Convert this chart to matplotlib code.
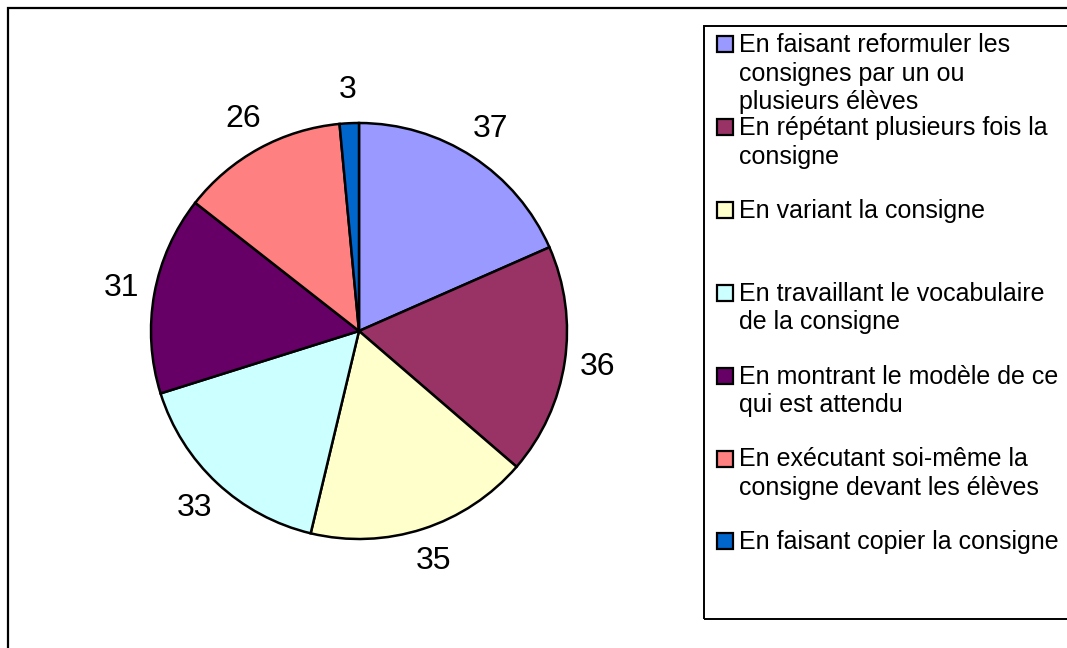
import matplotlib
matplotlib.use("Agg")
import matplotlib.pyplot as plt
from matplotlib.patches import Rectangle

plt.rcParams['font.family'] = ['Liberation Sans', 'DejaVu Sans']

labels = [
    "En faisant reformuler les\nconsignes par un ou\nplusieurs élèves",
    "En répétant plusieurs fois la\nconsigne",
    "En variant la consigne",
    "En travaillant le vocabulaire\nde la consigne",
    "En montrant le modèle de ce\nqui est attendu",
    "En exécutant soi-même la\nconsigne devant les élèves",
    "En faisant copier la consigne",
]
values = [37, 36, 35, 33, 31, 26, 3]
colors = ["#9999FF", "#993366", "#FFFFCC", "#CCFFFF", "#660066", "#FF8080", "#0066CC"]

W, H = 1067, 648
fig = plt.figure(figsize=(W / 100, H / 100), dpi=100)

# outer chart border (runs off the right and bottom edges)
fig.patches.append(Rectangle((8 / W, -0.05), 1.1, 1 - 8 / H + 0.05,
                             transform=fig.transFigure, fill=False,
                             edgecolor="black", linewidth=1.6))

# pie
cx, cy, r = 359, 331, 208
ax = fig.add_axes([(cx - r) / W, (H - cy - r) / H, 2 * r / W, 2 * r / H])
total = sum(values)
wedges, texts, autotexts = ax.pie(
    values, colors=colors, startangle=90, counterclock=False,
    wedgeprops=dict(edgecolor="black", linewidth=1.8),
    autopct=lambda p: "%d" % round(p * total / 100), pctdistance=1.16,
    textprops=dict(fontsize=23, color="black"))
ax.set_xlim(-1, 1)
ax.set_ylim(-1, 1)
ax.set_aspect("equal")
for t in autotexts:
    t.set_clip_on(False)

# legend box
lx, ly, lb = 704, 26, 619
fig.patches.append(Rectangle((lx / W, 1 - lb / H), 1.0, (lb - ly) / H,
                             transform=fig.transFigure, fill=False,
                             edgecolor="black", linewidth=1.4))

y0, step = 44, 82.9
sq = 16
for i, (lab, col) in enumerate(zip(labels, colors)):
    yc = y0 + i * step
    fig.patches.append(Rectangle((717 / W, 1 - (yc + sq / 2) / H), sq / W, sq / H,
                                 transform=fig.transFigure, facecolor=col,
                                 edgecolor="black", linewidth=1.6))
    fig.text(739 / W, 1 - (yc - 11) / H, lab, fontsize=18, va="top", ha="left",
             linespacing=1.25)

fig.savefig("out.png", dpi=100)
